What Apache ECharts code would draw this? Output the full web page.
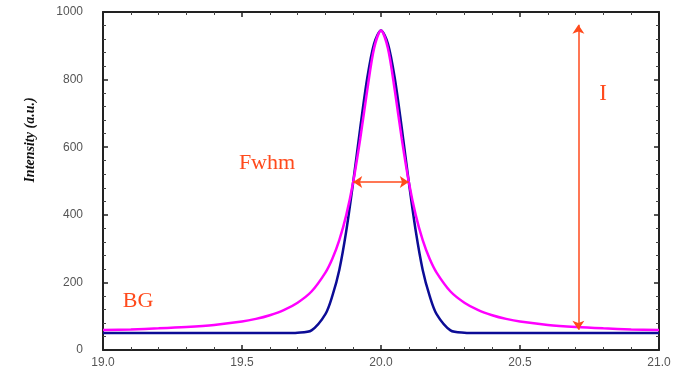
<!DOCTYPE html>
<html>
<head>
<meta charset="utf-8">
<title>Peak profile</title>
<script src="https://cdn.jsdelivr.net/npm/echarts@6/dist/echarts.min.js"></script>
<style>
  html, body { margin: 0; padding: 0; background: #ffffff; }
  #chart { width: 676px; height: 377px; }
</style>
</head>
<body>
<div id="chart"></div>
<script>
// Diffraction angle samples (degrees)
const twoTheta = [
  19.0, 19.1, 19.2, 19.3, 19.4, 19.5, 19.55, 19.6, 19.65, 19.7,
  19.75, 19.8, 19.825, 19.85, 19.875, 19.9, 19.925, 19.95, 19.975, 20.0,
  20.025, 20.05, 20.075, 20.1, 20.125, 20.15, 20.175, 20.2, 20.25, 20.3,
  20.35, 20.4, 20.45, 20.5, 20.6, 20.7, 20.8, 20.9, 21.0
];

// Narrow-tailed profile (dark blue)
const gaussProfile = [
  50, 50, 50, 50, 50, 50, 50, 50, 50, 51,
  58, 106, 160, 237, 352, 497, 655, 802, 906, 945,
  906, 802, 655, 497, 352, 237, 160, 106, 58, 51,
  50, 50, 50, 50, 50, 50, 50, 50, 50
];

// Wide-tailed profile (magenta)
const lorentzProfile = [
  59, 61, 64, 68, 74, 84, 92, 103, 118, 140,
  173, 229, 270, 325, 399, 497, 623, 766, 892, 945,
  892, 766, 623, 497, 399, 325, 270, 229, 173, 140,
  118, 103, 92, 84, 74, 68, 64, 61, 59
];

// Annotation arrows: full width at half maximum, and peak intensity above background
const fwhmArrow = [[19.9, 497], [20.1, 497]];
const intensityArrow = [[20.71, 60], [20.71, 962]];

const xMin = 19.0, xMax = 21.0, xStep = 0.5;
const yMin = 0, yMax = 1000, yStep = 200;

const pairs = (ys) => twoTheta.map((x, i) => [x, ys[i]]);

const accent = '#ff4a1c';
const axisColor = '#222222';
const labelStyle = { color: '#555555', fontFamily: '"Liberation Sans", Arial, sans-serif', fontSize: 12 };

function xAxisDef(pos, labels) {
  return {
    type: 'value', position: pos, min: xMin, max: xMax, interval: xStep,
    axisLine: { show: true, onZero: false, lineStyle: { color: axisColor, width: 2 } },
    axisTick: { show: true, inside: true, length: 5, lineStyle: { color: axisColor, width: 1.5 } },
    minorTick: { show: true, splitNumber: 5, length: 3, lineStyle: { color: '#444', width: 1 } },
    splitLine: { show: false },
    axisLabel: labels ? Object.assign({ margin: 7, formatter: v => v.toFixed(1) }, labelStyle) : { show: false }
  };
}

function yAxisDef(pos, labels) {
  return {
    type: 'value', position: pos, min: yMin, max: yMax, interval: yStep,
    axisLine: { show: true, onZero: false, lineStyle: { color: axisColor, width: 2 } },
    axisTick: { show: true, inside: true, length: 5, lineStyle: { color: axisColor, width: 1.5 } },
    minorTick: { show: true, splitNumber: 5, length: 3, lineStyle: { color: '#444', width: 1 } },
    splitLine: { show: false },
    axisLabel: labels ? Object.assign({ margin: 20, formatter: v => String(v) }, labelStyle) : { show: false }
  };
}

const chart = echarts.init(document.getElementById('chart'), null, { renderer: 'canvas' });

chart.setOption({
  animation: false,
  backgroundColor: '#ffffff',
  grid: { left: 103, right: 17, top: 12, bottom: 27, containLabel: false },
  xAxis: [xAxisDef('bottom', true), xAxisDef('top', false)],
  yAxis: [yAxisDef('left', true), yAxisDef('right', false)],
  series: [
    {
      name: 'Gaussian', type: 'line', data: pairs(gaussProfile),
      showSymbol: false, symbol: 'none', smooth: 0.3,
      lineStyle: { color: '#0c0c96', width: 2.5 },
      z: 2, silent: true
    },
    {
      name: 'Lorentzian', type: 'line', data: pairs(lorentzProfile),
      showSymbol: false, symbol: 'none', smooth: 0.3,
      lineStyle: { color: '#ff00ff', width: 2.5 },
      z: 3, silent: true,
      markLine: {
        silent: true,
        symbol: ['arrow', 'arrow'],
        symbolSize: [9, 9],
        label: { show: false },
        lineStyle: { color: accent, width: 1.5, type: 'solid' },
        emphasis: { disabled: true },
        data: [
          [{ coord: fwhmArrow[0] }, { coord: fwhmArrow[1] }],
          [{ coord: intensityArrow[0] }, { coord: intensityArrow[1] }]
        ]
      }
    }
  ],
  graphic: [
    {
      type: 'text', x: 30, y: 140, rotation: Math.PI / 2,
      style: {
        text: 'Intensity (a.u.)', align: 'center', verticalAlign: 'middle',
        font: 'italic bold 14px "Liberation Serif", "Times New Roman", serif', fill: '#111111'
      }
    },
    {
      type: 'text', x: 267, y: 163,
      style: { text: 'Fwhm', align: 'center', verticalAlign: 'middle', font: '22px "Liberation Serif", serif', fill: accent }
    },
    {
      type: 'text', x: 603, y: 94,
      style: { text: 'I', align: 'center', verticalAlign: 'middle', font: '23px "Liberation Serif", serif', fill: accent }
    },
    {
      type: 'text', x: 138, y: 301,
      style: { text: 'BG', align: 'center', verticalAlign: 'middle', font: '22px "Liberation Serif", serif', fill: accent }
    }
  ]
});
</script>
</body>
</html>
